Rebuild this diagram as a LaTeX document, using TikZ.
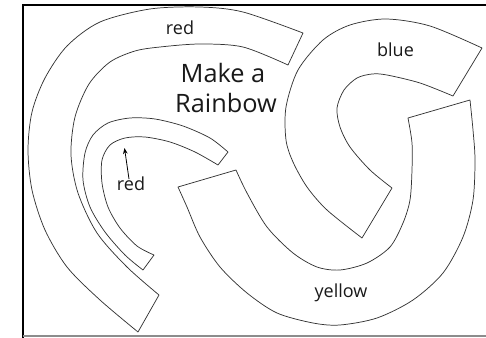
\documentclass[tikz,border=0pt]{standalone}
\usepackage{fontspec}
\setmainfont{Open Sans}
\usetikzlibrary{arrows.meta}
\tikzset{
  band/.style={draw=black!80, line width=0.55pt, line join=round},
  lbl/.style={anchor=base, inner sep=0pt, font=\fontsize{13.5pt}{15pt}\selectfont, text=black!90},
  title/.style={anchor=base, inner sep=0pt, font=\fontsize{19pt}{22pt}\selectfont, text=black!90},
}
\begin{document}
\begin{tikzpicture}[x=0.75pt,y=-0.75pt]
\useasboundingbox (0,0) rectangle (486,338);
% frame
\draw[black, line width=1.6pt] (23,338) -- (23,5) -- (486,5);
\draw[black!45, line width=0.8pt] (23,336) -- (486,336);

% big red band
\draw[band] plot[smooth] coordinates {(138,332) (100,300) (67,267) (45,230) (32,190) (28,150) (32,112) (45,78) (67,46) (100,22) (150,9) (200,7) (243,12) (303,33)}
  -- plot[smooth] coordinates {(288,65) (243,47) (200,44) (160,47) (135,51) (110,62) (89,84) (75,117) (71,155) (78,193) (97,233) (127,267) (159,295)}
  -- cycle;

% small red band
\draw[band] plot[smooth] coordinates {(143,270) (125,255) (105,232) (90,207) (83,180) (85,153) (93,135) (108,123) (130,118) (155,119) (183,126) (210,138) (228,152)}
  -- plot[smooth] coordinates {(218,165) (195,152) (170,142) (145,137) (125,138) (110,145) (102,160) (102,183) (108,207) (120,228) (137,246) (154,255)}
  -- cycle;

% blue band
\draw[band] plot[smooth] coordinates {(362,238) (327,210) (307,187) (293,162) (286,140) (286,107) (298,70) (323,40) (350,25) (386,19) (430,26) (482,48)}
  -- plot[smooth] coordinates {(453,96) (420,83) (387,75) (372,74) (357,78) (344,90) (337,108) (340,127) (350,147) (370,170) (392,188)}
  -- cycle;

% yellow band
\draw[band] plot[smooth] coordinates {(178,187) (187,207) (200,237) (220,267) (247,293) (277,313) (313,323) (340,325) (377,318) (413,300) (443,273) (463,237) (473,200) (475,160) (473,130) (470,100)}
  -- plot[smooth] coordinates {(408,118) (412,143) (412,170) (410,200) (403,223) (390,247) (367,263) (340,270) (317,267) (293,253) (267,227) (247,193) (236,170)}
  -- cycle;

% texts
\node[title] (t1) at (223,83) {Make a};
\node[title] (t2) at (226,113) {Rainbow};
\node[lbl] (redtop) at (180,35) {red};
\node[lbl] (blue) at (395.5,57) {blue};
\node[lbl] (yellow) at (341,298) {yellow};
\node[lbl] (redsmall) at (131,191) {red};
\coordinate (tip) at (124.5,148);
\draw[black, line width=0.6pt, -{Stealth[length=4.5pt,width=3.5pt]}] ([xshift=-1.5pt,yshift=-1.5pt]redsmall.north) -- (tip);
\end{tikzpicture}
\end{document}
